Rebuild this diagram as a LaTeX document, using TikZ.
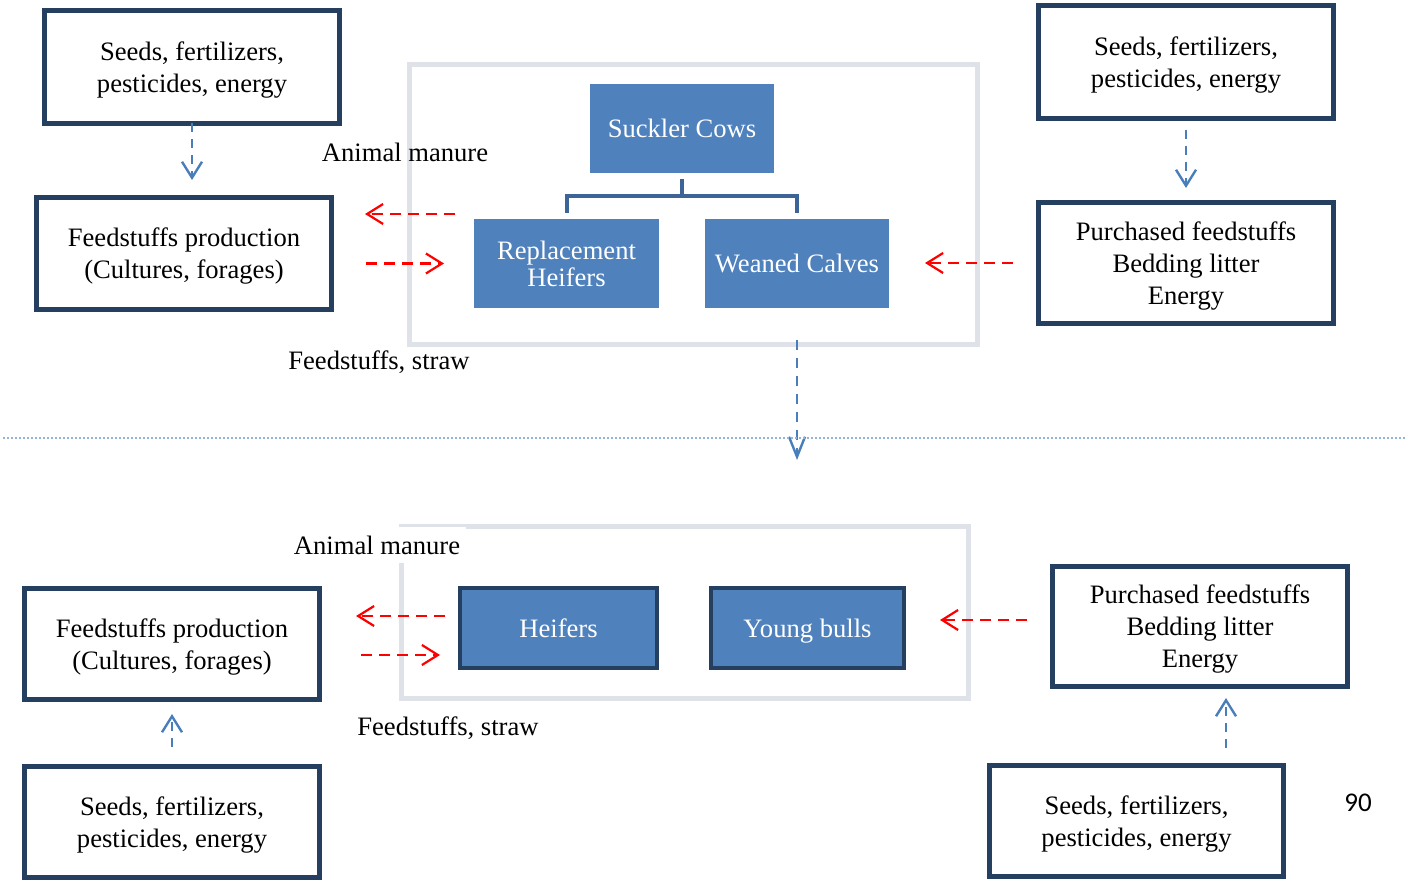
\documentclass[tikz,border=0pt]{standalone}
\usepackage{fontspec}
\setmainfont{Liberation Serif}
\newfontfamily\numfont{Carlito}
\usetikzlibrary{arrows.meta}
\definecolor{navy}{RGB}{36,63,96}
\definecolor{cblue}{RGB}{79,129,189}
\definecolor{aBlue}{RGB}{74,126,187}
\definecolor{frameGray}{RGB}{223,227,233}
\definecolor{treeBlue}{RGB}{61,100,150}
\definecolor{dotBlue}{RGB}{149,179,215}
\begin{document}
\begin{tikzpicture}[x=0.5pt,y=-0.5pt,
 every node/.style={font=\fontsize{13.3}{16}\selectfont, inner sep=0pt, outer sep=0pt, align=center},
 whitebox/.style={draw=navy, line width=2.5pt, fill=white, minimum width=147.5pt, minimum height=56.5pt, text depth=-1pt},
 bluebox/.style={fill=cblue, text=white, font=\fontsize{13.3}{13.5}\selectfont},
 blueboxb/.style={bluebox, draw=navy, line width=2pt},
 framebox/.style={draw=frameGray, line width=2.5pt},
 treeline/.style={draw=treeBlue, line width=2pt},
 redarr/.style={red, line width=1.1pt, dash pattern=on 5.5pt off 3.5pt, -{Straight Barb[length=8pt,width=10pt]}},
 bluearr/.style={aBlue, line width=1.2pt, dash pattern=on 4.5pt off 3.5pt, -{Straight Barb[length=8pt,width=10pt]}},
 bigbluearr/.style={aBlue, line width=1.2pt, dash pattern=on 5pt off 4pt, -{Straight Barb[length=10pt,width=8pt]}}]
\useasboundingbox (0,0) rectangle (1411,881);

% ---------- top part ----------
\draw[framebox] (409.5,64.5) rectangle (977.5,344.5);

\node[whitebox] (seedsTL) at (192,67) {Seeds, fertilizers,\\pesticides, energy};
\node[whitebox, minimum height=56pt] (feedT) at (184,253.5) {Feedstuffs production\\(Cultures, forages)};
\node[whitebox] (seedsTR) at (1186,62) {Seeds, fertilizers,\\pesticides, energy};
\node[whitebox, minimum height=60.5pt] (purchT) at (1186,263) {Purchased feedstuffs\\Bedding litter\\Energy};

\node[bluebox, minimum width=92pt, minimum height=44.5pt] (suckler) at (682,128.5) {Suckler Cows};
\node[bluebox, minimum width=92.5pt, minimum height=44.5pt] (replH) at (566.5,263.5) {Replacement\\Heifers};
\node[bluebox, minimum width=92pt, minimum height=44.5pt] (weaned) at (797,263.5) {Weaned Calves};

\draw[treeline] ([yshift=-3pt]suckler.south) -- ++(0,17) coordinate (tj) -| ([yshift=3pt]replH.north);
\draw[treeline] (tj) -| ([yshift=3pt]weaned.north);

\node (amT) at (405,152) {Animal manure};
\node (fsT) at (379,362) {Feedstuffs, straw};

\coordinate (mTs) at (455,214);
\coordinate (mTe) at (365,214);
\draw[redarr] (mTs) -- (mTe);
\draw[redarr, shorten <=17.25pt, shorten >=15pt] (feedT.east |- replH.west) -- (replH.west);
\draw[redarr, shorten <=12.75pt, shorten >=18pt] (purchT.west) -- (purchT.west -| weaned.east);

\draw[bluearr, shorten >=8.75pt] (seedsTL.south) -- (seedsTL.south |- feedT.north);
\draw[bluearr, shorten <=5.75pt, shorten >=7.25pt] (seedsTR.south) -- (purchT.north);

\coordinate (down) at (798,460);
\draw[bigbluearr, shorten <=16pt] (weaned.south) -- (weaned.south |- down);

\draw[dotBlue, line width=1pt, dash pattern=on 1pt off 1pt] (3,438) -- (1405,438);

% ---------- bottom part ----------
\draw[framebox] (401.5,526.5) rectangle (968.5,698.5);

\node[blueboxb, minimum width=98.5pt, minimum height=40pt] (heif) at (558.5,628) {Heifers};
\node[blueboxb, minimum width=96.5pt, minimum height=40pt, text depth=0pt] (young) at (807.5,628) {Young bulls};

\node[whitebox, minimum height=55.5pt] (feedB) at (172,644) {Feedstuffs production\\(Cultures, forages)};
\node[whitebox, minimum height=55.5pt] (seedsBL) at (172,822) {Seeds, fertilizers,\\pesticides, energy};
\node[whitebox, minimum height=60pt] (purchB) at (1200,626.5) {Purchased feedstuffs\\Bedding litter\\Energy};
\node[whitebox, minimum width=147pt, minimum height=55.5pt] (seedsBR) at (1136.5,821) {Seeds, fertilizers,\\pesticides, energy};

\node[fill=white, minimum height=18pt, inner xsep=3pt] (amB) at (377,545) {Animal manure};
\node (fsB) at (448,728) {Feedstuffs, straw};

\coordinate (mBs) at (445,616);
\coordinate (mBe) at (356,616);
\draw[redarr] (mBs) -- (mBe);
\coordinate (fBs) at (361,655);
\coordinate (fBe) at (440,655);
\draw[redarr] (fBs) -- (fBe);
\coordinate (pBs) at (1027,620);
\coordinate (pBe) at (940,620);
\draw[redarr] (pBs) -- (pBe);

\draw[bluearr, shorten <=9.75pt, shorten >=7.25pt] (seedsBL.north) -- (feedB.south);
\draw[bluearr, shorten <=8.75pt, shorten >=5.75pt] ([xshift=44.75pt]seedsBR.north) -- ([xshift=44.75pt]seedsBR.north |- purchB.south);

\node[font=\numfont\fontsize{13.5}{16}\selectfont] (pg) at (1358,803) {90};
\end{tikzpicture}
\end{document}
